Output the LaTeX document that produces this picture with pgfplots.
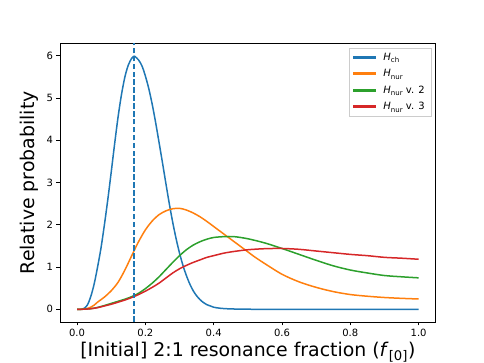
\documentclass[border=0pt]{standalone}
\usepackage{fontspec}
\setmainfont{DejaVu Sans}
\usepackage{pgfplots}
\pgfplotsset{compat=1.18}

\definecolor{c0}{HTML}{1F77B4}
\definecolor{c1}{HTML}{FF7F0E}
\definecolor{c2}{HTML}{2CA02C}
\definecolor{c3}{HTML}{D62728}
\definecolor{legframe}{HTML}{CCCCCC}

\newcommand{\sub}[1]{\raisebox{-0.25em}{\fontsize{7}{8}\selectfont #1}}

\begin{document}
\begin{tikzpicture}
\begin{axis}[
    scale only axis,
    width=375.7pt, height=278.5pt,
    xmin=-0.05, xmax=1.05,
    ymin=-0.2995, ymax=6.29,
    axis line style={line width=0.8pt},
    tick align=outside,
    tick style={black, line width=0.8pt},
    major tick length=3.5pt,
    xtick pos=bottom, ytick pos=left,
    xtick={0,0.2,...,1.0},
    ytick={0,1,2,3,4,5,6},
    /pgf/number format/assume math mode=true,
    tick label style={font=\fontsize{10}{12}\selectfont},
    xticklabel style={/pgf/number format/.cd, fixed, fixed zerofill, precision=1},
    yticklabel style={/pgf/number format/.cd, fixed, precision=0},
    xlabel={[Initial] 2:1 resonance fraction (\textit{f}\textsubscript{[0]})},
    ylabel={Relative probability},
    label style={font=\fontsize{18.9}{22}\selectfont},
    xlabel style={at={(axis description cs:0.5,-0.072)}, anchor=north, inner sep=0pt},
    ylabel style={at={(axis description cs:-0.058,0.5)}, anchor=south, inner sep=0pt},
    legend cell align=left,
    legend style={at={(axis description cs:0.9875,0.984)}, anchor=north east,
        draw=legframe, fill=white,
        font=\fontsize{10}{12}\selectfont,
        row sep=3.5pt, inner xsep=4pt, inner ysep=3pt,
        /tikz/every odd column/.append style={column sep=5pt}},
    legend image code/.code={\fill[#1] (0pt,-0.75pt) rectangle (22pt,0.75pt);},
]
\addplot[color=c0, line width=1.5pt, smooth] coordinates {
(0.00,0) (0.01,0) (0.02,0.02) (0.03,0.10) (0.04,0.30) (0.05,0.60) (0.06,1.00)
(0.07,1.45) (0.08,2.00) (0.09,2.60) (0.10,3.25) (0.11,3.92) (0.12,4.55)
(0.13,5.08) (0.14,5.50) (0.15,5.78) (0.16,5.94) (0.167,5.99) (0.17,5.98)
(0.18,5.90) (0.19,5.76) (0.20,5.52) (0.21,5.22) (0.22,4.85) (0.23,4.42)
(0.24,3.95) (0.25,3.47) (0.26,2.98) (0.27,2.50) (0.28,2.06) (0.29,1.67)
(0.30,1.33) (0.31,1.04) (0.32,0.80) (0.33,0.60) (0.34,0.44) (0.35,0.32)
(0.36,0.23) (0.37,0.16) (0.38,0.11) (0.39,0.08) (0.40,0.05) (0.42,0.025)
(0.45,0.01) (0.50,0.003) (0.55,0) (0.70,0) (0.85,0) (1.00,0)
};
\addlegendentry{\textit{H}\sub{ch}}
\addplot[color=c1, line width=1.5pt, smooth] coordinates {
(0.00,0) (0.02,0.005) (0.03,0.02) (0.04,0.05) (0.05,0.10) (0.06,0.17)
(0.08,0.29) (0.10,0.44) (0.12,0.64) (0.14,0.93) (0.16,1.27) (0.18,1.60)
(0.20,1.88) (0.22,2.09) (0.24,2.24) (0.26,2.33) (0.28,2.38) (0.30,2.39)
(0.32,2.35) (0.34,2.28) (0.36,2.19) (0.38,2.08) (0.40,1.96) (0.42,1.84)
(0.44,1.72) (0.46,1.60) (0.48,1.48) (0.50,1.36) (0.52,1.24) (0.55,1.08)
(0.60,0.83) (0.65,0.65) (0.70,0.52) (0.75,0.42) (0.80,0.35) (0.85,0.31)
(0.90,0.28) (0.95,0.26) (1.00,0.245)
};
\addlegendentry{\textit{H}\sub{nur}}
\addplot[color=c2, line width=1.5pt, smooth] coordinates {
(0.00,0) (0.02,0.003) (0.04,0.015) (0.06,0.045) (0.08,0.09) (0.10,0.14)
(0.12,0.19) (0.14,0.24) (0.16,0.30) (0.18,0.38) (0.20,0.49) (0.22,0.62)
(0.24,0.77) (0.26,0.94) (0.28,1.11) (0.30,1.27) (0.32,1.41) (0.34,1.52)
(0.36,1.60) (0.38,1.66) (0.40,1.70) (0.43,1.72) (0.46,1.72) (0.50,1.67)
(0.55,1.57) (0.60,1.44) (0.65,1.30) (0.70,1.16) (0.75,1.03) (0.80,0.93)
(0.85,0.86) (0.90,0.80) (0.95,0.77) (1.00,0.745)
};
\addlegendentry{\textit{H}\sub{nur} v. 2}
\addplot[color=c3, line width=1.5pt, smooth] coordinates {
(0.00,0) (0.02,0.003) (0.04,0.015) (0.06,0.04) (0.08,0.08) (0.10,0.12)
(0.12,0.17) (0.14,0.22) (0.16,0.28) (0.18,0.35) (0.20,0.43) (0.22,0.52)
(0.24,0.62) (0.26,0.74) (0.28,0.86) (0.30,0.96) (0.32,1.04) (0.34,1.11)
(0.36,1.17) (0.38,1.23) (0.40,1.27) (0.43,1.33) (0.46,1.37) (0.50,1.41)
(0.55,1.435) (0.60,1.44) (0.65,1.42) (0.70,1.38) (0.75,1.34) (0.80,1.30)
(0.85,1.27) (0.90,1.23) (0.95,1.21) (1.00,1.185)
};
\addlegendentry{\textit{H}\sub{nur} v. 3}
\addplot[color=c0, line width=1.5pt, dash pattern=on 5.5pt off 2.4pt, forget plot] coordinates {(0.1667,-0.2995) (0.1667,6.29)};
\end{axis}
\path ([xshift=-60pt,yshift=-41pt]current axis.south west) rectangle ([xshift=48.3pt,yshift=43.5pt]current axis.north east);
\end{tikzpicture}
\end{document}
